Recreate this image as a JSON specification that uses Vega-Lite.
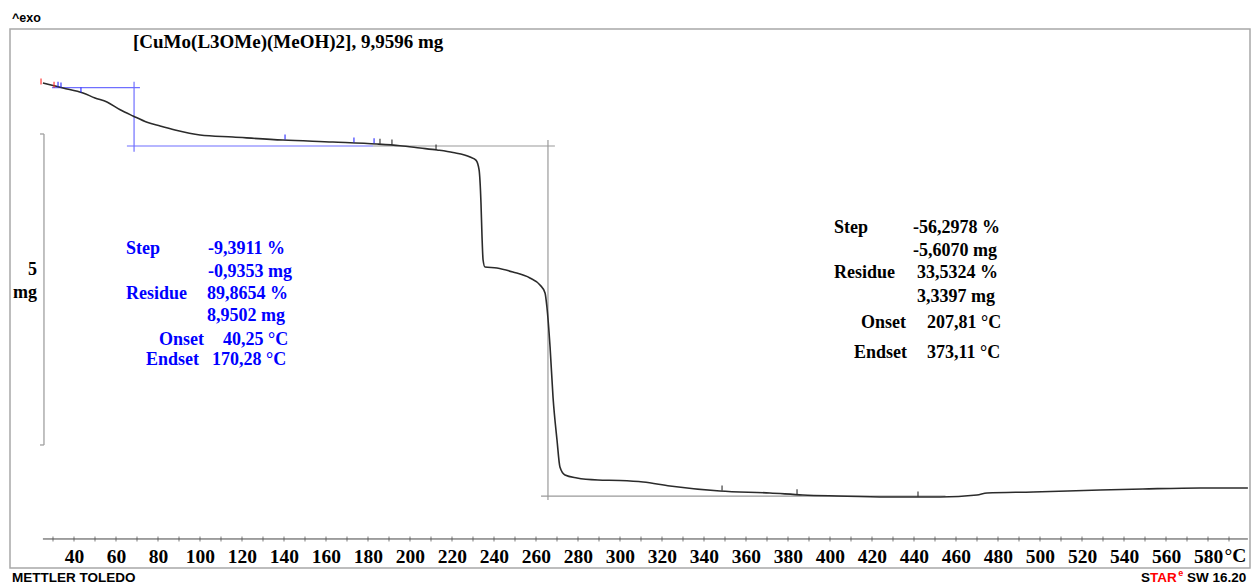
{
  "$schema": "https://vega.github.io/schema/vega-lite/v6.json",
  "width": 1240,
  "height": 539,
  "autosize": {"type": "none"},
  "padding": {"left": 10, "top": 29, "right": 8, "bottom": 19},
  "background": "white",
  "config": {"view": {"stroke": "#a8a8a8", "strokeWidth": 1.5}},
  "datasets": {
    "curve": [
      {"T": 25.2, "m": 9.96}, {"T": 30.0, "m": 9.92}, {"T": 34.8, "m": 9.88}, {"T": 44.3, "m": 9.8},
      {"T": 50.0, "m": 9.72}, {"T": 55.7, "m": 9.655}, {"T": 62.0, "m": 9.53}, {"T": 68.1, "m": 9.431},
      {"T": 74.8, "m": 9.33}, {"T": 81.0, "m": 9.27}, {"T": 88.1, "m": 9.207}, {"T": 100.0, "m": 9.127},
      {"T": 115.7, "m": 9.094}, {"T": 139.5, "m": 9.046}, {"T": 163.3, "m": 9.014}, {"T": 184.3, "m": 8.982},
      {"T": 195.2, "m": 8.955}, {"T": 204.8, "m": 8.918}, {"T": 212.9, "m": 8.886}, {"T": 220.5, "m": 8.846},
      {"T": 228.6, "m": 8.774}, {"T": 231.5, "m": 8.72}, {"T": 232.9, "m": 8.566}, {"T": 233.8, "m": 8.037},
      {"T": 234.3, "m": 7.492}, {"T": 234.8, "m": 7.123}, {"T": 235.7, "m": 7.011}, {"T": 241.4, "m": 6.995},
      {"T": 249.0, "m": 6.931}, {"T": 257.1, "m": 6.835}, {"T": 261.9, "m": 6.723}, {"T": 264.3, "m": 6.595},
      {"T": 265.2, "m": 6.37}, {"T": 266.7, "m": 5.729}, {"T": 268.1, "m": 4.928}, {"T": 270.0, "m": 4.239},
      {"T": 271.4, "m": 3.806}, {"T": 273.8, "m": 3.678}, {"T": 279.5, "m": 3.63}, {"T": 289.5, "m": 3.598},
      {"T": 300.0, "m": 3.59}, {"T": 311.0, "m": 3.566}, {"T": 323.8, "m": 3.502}, {"T": 347.6, "m": 3.421},
      {"T": 371.4, "m": 3.389}, {"T": 387.1, "m": 3.357}, {"T": 403.3, "m": 3.341}, {"T": 427.1, "m": 3.325},
      {"T": 452.4, "m": 3.325}, {"T": 470.0, "m": 3.357}, {"T": 474.8, "m": 3.389}, {"T": 496.7, "m": 3.405},
      {"T": 528.6, "m": 3.437}, {"T": 549.0, "m": 3.453}, {"T": 576.2, "m": 3.469}, {"T": 599.0, "m": 3.469}
    ],
    "blueLines": [
      {"T": 29.5, "T2": 71.4, "m": 9.8855, "m2": 9.8855},
      {"T": 68.6, "T2": 68.6, "m": 9.981, "m2": 8.859},
      {"T": 65.2, "T2": 182.4, "m": 8.9502, "m2": 8.9502}
    ],
    "grayLines": [
      {"T": 182.4, "T2": 269.0, "m": 8.9502, "m2": 8.9502},
      {"T": 265.7, "T2": 265.7, "m": 9.046, "m2": 3.277},
      {"T": 262.4, "T2": 455.0, "m": 3.3397, "m2": 3.3397}
    ],
    "bracket": [
      {"T": 25.7, "T2": 25.7, "m": 9.1425, "m2": 4.1585},
      {"T": 23.8, "T2": 25.7, "m": 9.1425, "m2": 9.1425},
      {"T": 23.8, "T2": 25.7, "m": 4.1585, "m2": 4.1585}
    ],
    "axisLine": [
      {"T": 25.2, "T2": 599.0, "m": 2.6522, "m2": 2.6522}
    ],
    "axisTicks": [
      {"T": 30, "m": 2.6522}, {"T": 40, "m": 2.6522}, {"T": 50, "m": 2.6522}, {"T": 60, "m": 2.6522},
      {"T": 70, "m": 2.6522}, {"T": 80, "m": 2.6522}, {"T": 90, "m": 2.6522}, {"T": 100, "m": 2.6522},
      {"T": 110, "m": 2.6522}, {"T": 120, "m": 2.6522}, {"T": 130, "m": 2.6522}, {"T": 140, "m": 2.6522},
      {"T": 150, "m": 2.6522}, {"T": 160, "m": 2.6522}, {"T": 170, "m": 2.6522}, {"T": 180, "m": 2.6522},
      {"T": 190, "m": 2.6522}, {"T": 200, "m": 2.6522}, {"T": 210, "m": 2.6522}, {"T": 220, "m": 2.6522},
      {"T": 230, "m": 2.6522}, {"T": 240, "m": 2.6522}, {"T": 250, "m": 2.6522}, {"T": 260, "m": 2.6522},
      {"T": 270, "m": 2.6522}, {"T": 280, "m": 2.6522}, {"T": 290, "m": 2.6522}, {"T": 300, "m": 2.6522},
      {"T": 310, "m": 2.6522}, {"T": 320, "m": 2.6522}, {"T": 330, "m": 2.6522}, {"T": 340, "m": 2.6522},
      {"T": 350, "m": 2.6522}, {"T": 360, "m": 2.6522}, {"T": 370, "m": 2.6522}, {"T": 380, "m": 2.6522},
      {"T": 390, "m": 2.6522}, {"T": 400, "m": 2.6522}, {"T": 410, "m": 2.6522}, {"T": 420, "m": 2.6522},
      {"T": 430, "m": 2.6522}, {"T": 440, "m": 2.6522}, {"T": 450, "m": 2.6522}, {"T": 460, "m": 2.6522},
      {"T": 470, "m": 2.6522}, {"T": 480, "m": 2.6522}, {"T": 490, "m": 2.6522}, {"T": 500, "m": 2.6522},
      {"T": 510, "m": 2.6522}, {"T": 520, "m": 2.6522}, {"T": 530, "m": 2.6522}, {"T": 540, "m": 2.6522},
      {"T": 550, "m": 2.6522}, {"T": 560, "m": 2.6522}, {"T": 570, "m": 2.6522}, {"T": 580, "m": 2.6522},
      {"T": 590, "m": 2.6522}
    ],
    "redMarks": [{"T": 24.3, "m": 9.95}, {"T": 30.5, "m": 9.9}],
    "blueMarks": [
      {"T": 32.4, "m": 9.89}, {"T": 33.8, "m": 9.88}, {"T": 43.3, "m": 9.8},
      {"T": 140.5, "m": 9.045}, {"T": 173.3, "m": 9.0}, {"T": 182.9, "m": 8.985}
    ],
    "blackMarks": [
      {"T": 185.7, "m": 8.98}, {"T": 191.4, "m": 8.965}, {"T": 212.4, "m": 8.886},
      {"T": 348.6, "m": 3.421}, {"T": 384.3, "m": 3.36}, {"T": 441.9, "m": 3.325}
    ],
    "blueL": [
      {"T": 64.76, "m": 7.2996, "text": "Step"},
      {"T": 103.8, "m": 7.2996, "text": "-9,3911 %"},
      {"T": 103.8, "m": 6.931, "text": "-0,9353 mg"},
      {"T": 64.76, "m": 6.5784, "text": "Residue"},
      {"T": 103.3, "m": 6.5784, "text": "89,8654 %"},
      {"T": 103.3, "m": 6.2259, "text": "8,9502 mg"},
      {"T": 111.0, "m": 5.8412, "text": "40,25 °C"},
      {"T": 105.7, "m": 5.5207, "text": "170,28 °C"}
    ],
    "blueR": [
      {"T": 101.9, "m": 5.8412, "text": "Onset"},
      {"T": 99.5, "m": 5.5207, "text": "Endset"}
    ],
    "blackL": [
      {"T": 401.9, "m": 7.6361, "text": "Step"},
      {"T": 439.5, "m": 7.6361, "text": "-56,2978 %"},
      {"T": 439.5, "m": 7.2675, "text": "-5,6070 mg"},
      {"T": 401.9, "m": 6.9149, "text": "Residue"},
      {"T": 441.4, "m": 6.9149, "text": "33,5324 %"},
      {"T": 441.4, "m": 6.5303, "text": "3,3397 mg"},
      {"T": 446.2, "m": 6.1137, "text": "207,81 °C"},
      {"T": 446.2, "m": 5.6329, "text": "373,11 °C"}
    ],
    "unitC": [{"T": 587.8, "m": 2.3797, "text": "°C"}],
    "blackR": [
      {"T": 436.2, "m": 6.1137, "text": "Onset"},
      {"T": 436.7, "m": 5.6329, "text": "Endset"},
      {"T": 22.4, "m": 6.963, "text": "5"},
      {"T": 22.4, "m": 6.5944, "text": "mg"}
    ],
    "title": [{"T": 68.1, "m": 10.617, "text": "[CuMo(L3OMe)(MeOH)2], 9,9596 mg"}],
    "exo": [{"T": 10.48, "m": 11.001, "text": "^exo"}],
    "sansL": [
      {"T": 10.48, "m": 2.027, "text": "METTLER TOLEDO"},
      {"T": 570.0, "m": 2.027, "text": "SW 16.20"}
    ],
    "sansR": [{"T": 552.4, "m": 2.027, "text": "S"}],
    "redL": [{"T": 552.4, "m": 2.027, "text": "TAR"}],
    "redSup": [{"T": 565.8, "m": 2.1, "text": "e"}]
  },
  "encoding": {
    "x": {
      "field": "T", "type": "quantitative",
      "scale": {"domain": [9.524, 600], "nice": false, "zero": false},
      "axis": {
        "values": [40, 60, 80, 100, 120, 140, 160, 180, 200, 220, 240, 260, 280, 300, 320, 340, 360, 380, 400, 420, 440, 460, 480, 500, 520, 540, 560, 580],
        "domain": false, "ticks": false, "tickSize": 0, "grid": false,
        "labelFont": "Liberation Serif", "labelFontWeight": "bold", "labelFontSize": 19.5,
        "labelColor": "#000000", "labelBaseline": "middle", "labelPadding": 17,
        "labelFlush": false, "labelOverlap": false, "offset": -29, "title": null
      }
    },
    "y": {
      "field": "m", "type": "quantitative",
      "scale": {"domain": [2.187, 10.825], "nice": false, "zero": false},
      "axis": null
    }
  },
  "layer": [
    {"data": {"name": "blueLines"}, "mark": {"type": "rule", "color": "#6f6fff", "strokeWidth": 1.2},
     "encoding": {"x2": {"field": "T2"}, "y2": {"field": "m2"}}},
    {"data": {"name": "grayLines"}, "mark": {"type": "rule", "color": "#9a9a9a", "strokeWidth": 1.2},
     "encoding": {"x2": {"field": "T2"}, "y2": {"field": "m2"}}},
    {"data": {"name": "bracket"}, "mark": {"type": "rule", "color": "#a0a0a0", "strokeWidth": 1.3},
     "encoding": {"x2": {"field": "T2"}, "y2": {"field": "m2"}}},
    {"data": {"name": "axisLine"}, "mark": {"type": "rule", "color": "#444444", "strokeWidth": 1},
     "encoding": {"x2": {"field": "T2"}, "y2": {"field": "m2"}}},
    {"data": {"name": "axisTicks"}, "mark": {"type": "tick", "orient": "vertical", "color": "#444444", "size": 5, "thickness": 1}},
    {"data": {"name": "curve"}, "mark": {"type": "line", "color": "#2b2b2b", "strokeWidth": 1.6, "interpolate": "monotone"}},
    {"data": {"name": "redMarks"}, "mark": {"type": "tick", "orient": "vertical", "color": "#ff2020", "size": 6, "thickness": 1.5, "yOffset": -2}},
    {"data": {"name": "blueMarks"}, "mark": {"type": "tick", "orient": "vertical", "color": "#2020ff", "size": 5, "thickness": 1.5, "yOffset": -3}},
    {"data": {"name": "blackMarks"}, "mark": {"type": "tick", "orient": "vertical", "color": "#222222", "size": 5, "thickness": 1.5, "yOffset": -3}},
    {"data": {"name": "blueL"}, "mark": {"type": "text", "align": "left", "baseline": "middle", "font": "Liberation Serif", "fontSize": 18, "fontWeight": "bold", "color": "#0000ff"},
     "encoding": {"text": {"field": "text"}}},
    {"data": {"name": "blueR"}, "mark": {"type": "text", "align": "right", "baseline": "middle", "font": "Liberation Serif", "fontSize": 18, "fontWeight": "bold", "color": "#0000ff"},
     "encoding": {"text": {"field": "text"}}},
    {"data": {"name": "blackL"}, "mark": {"type": "text", "align": "left", "baseline": "middle", "font": "Liberation Serif", "fontSize": 18, "fontWeight": "bold", "color": "#000000"},
     "encoding": {"text": {"field": "text"}}},
    {"data": {"name": "unitC"}, "mark": {"type": "text", "align": "left", "baseline": "middle", "font": "Liberation Serif", "fontSize": 19.5, "fontWeight": "bold", "color": "#000000"},
     "encoding": {"text": {"field": "text"}}},
    {"data": {"name": "blackR"}, "mark": {"type": "text", "align": "right", "baseline": "middle", "font": "Liberation Serif", "fontSize": 18, "fontWeight": "bold", "color": "#000000"},
     "encoding": {"text": {"field": "text"}}},
    {"data": {"name": "title"}, "mark": {"type": "text", "align": "left", "baseline": "middle", "font": "Liberation Serif", "fontSize": 19, "fontWeight": "bold", "color": "#000000"},
     "encoding": {"text": {"field": "text"}}},
    {"data": {"name": "exo"}, "mark": {"type": "text", "align": "left", "baseline": "middle", "font": "Liberation Sans", "fontSize": 12.5, "fontWeight": "bold", "color": "#000000"},
     "encoding": {"text": {"field": "text"}}},
    {"data": {"name": "sansL"}, "mark": {"type": "text", "align": "left", "baseline": "middle", "font": "Liberation Sans", "fontSize": 13.5, "fontWeight": "bold", "color": "#000000"},
     "encoding": {"text": {"field": "text"}}},
    {"data": {"name": "sansR"}, "mark": {"type": "text", "align": "right", "baseline": "middle", "font": "Liberation Sans", "fontSize": 13.5, "fontWeight": "bold", "color": "#000000"},
     "encoding": {"text": {"field": "text"}}},
    {"data": {"name": "redL"}, "mark": {"type": "text", "align": "left", "baseline": "middle", "font": "Liberation Sans", "fontSize": 13.5, "fontWeight": "bold", "color": "#ff0000"},
     "encoding": {"text": {"field": "text"}}},
    {"data": {"name": "redSup"}, "mark": {"type": "text", "align": "left", "baseline": "middle", "font": "Liberation Sans", "fontSize": 9, "fontWeight": "bold", "color": "#ff0000"},
     "encoding": {"text": {"field": "text"}}}
  ]
}
